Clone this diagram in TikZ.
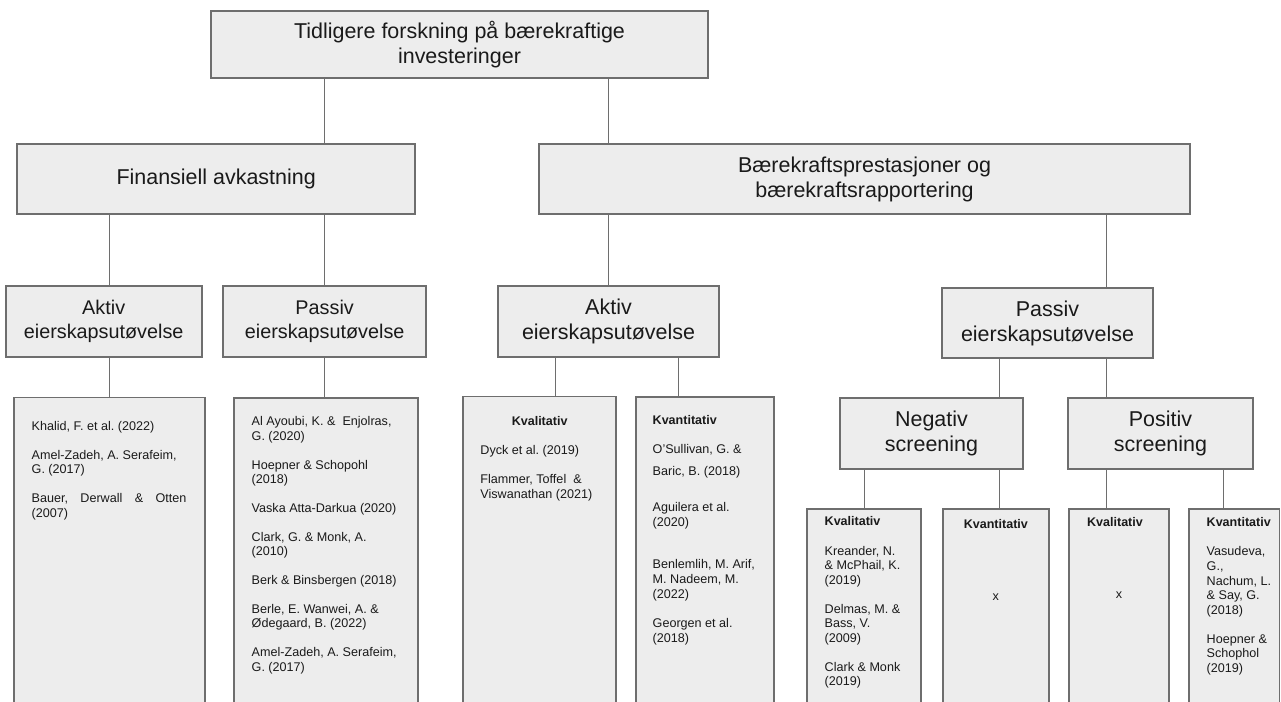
\documentclass[tikz,border=0pt]{standalone}
\usepackage{fontspec}
\usepackage{tikz}
\setmainfont{Liberation Sans}
\frenchspacing
\definecolor{boxfill}{HTML}{EDEDED}
\definecolor{boxline}{HTML}{6E6E6E}
\definecolor{ink}{HTML}{1A1A1A}

\begin{document}
\begin{tikzpicture}[x=0.75pt, y=-0.75pt,
        tbox/.style={draw=boxline, fill=boxfill, line width=1.3pt, inner sep=0pt, align=center, text=ink},
        wh/.style 2 args={minimum width=#1*0.75pt, minimum height=#2*0.75pt},
        bighead/.style={font=\fontsize{16.1pt}{18.75pt}\selectfont},
        midhead/.style={font=\fontsize{14.85pt}{17.8pt}\selectfont},
        lithead/.style={inner sep=0pt, text=ink, font=\fontsize{9.4pt}{11pt}\selectfont\bfseries},
        littext/.style={anchor=north west, inner sep=0pt, align=left, text=ink, font=\fontsize{9.45pt}{11pt}\selectfont},
        link/.style={draw=boxline, line width=1.1pt}]
        \useasboundingbox (0,0) rectangle (1281,702);
        \clip (0,0) rectangle (1281,702);

        % top and second level
        \node[tbox, bighead, wh={497.6}{66.7}] (top) at (459.5,44.35) {Tidligere forskning på bærekraftige\\investeringer};
        \node[tbox, bighead, wh={397.7}{70.3}] (fin) at (216.15,179.15) {Finansiell avkastning};
        \node[tbox, bighead, wh={651}{70.3}] (baer) at (864.5,179.15) {Bærekraftsprestasjoner og\\bærekraftsrapportering};

        % third level
        \node[tbox, midhead, wh={196}{71}] (aktA) at (103.7,321.2) {Aktiv\\eierskapsutøvelse};
        \node[tbox, midhead, wh={202.7}{71}] (passA) at (324.65,321.5) {Passiv\\eierskapsutøvelse};
        \node[tbox, bighead, wh={220.4}{70.7}] (aktB) at (608.5,321.35) {Aktiv\\eierskapsutøvelse};
        \node[tbox, bighead, wh={210.4}{70}] (passB) at (1047.5,323.3) {Passiv\\eierskapsutøvelse};
        \node[tbox, bighead, wh={183.6}{70.4}] (negS) at (931.5,433.5) {Negativ\\screening};
        \node[tbox, bighead, wh={184.4}{70.4}] (posS) at (1160.5,433.5) {Positiv\\screening};

        % literature boxes
        \node[tbox, wh={190.7}{320}, anchor=north] (litA) at (109.65,396.7) {};
        \node[tbox, wh={183.4}{320}, anchor=north] (litP) at (326,397) {};
        \node[tbox, wh={153.3}{320}, anchor=north] (kvalB) at (539.65,395.7) {};
        \node[tbox, wh={138.3}{320}, anchor=north] (kvantB) at (704.85,396) {};
        \node[tbox, wh={114}{210}, anchor=north] (negK) at (864.3,508.3) {};
        \node[tbox, wh={106.3}{210}, anchor=north] (negQ) at (995.85,508.3) {};
        \node[tbox, wh={100.6}{210}, anchor=north] (posK) at (1119,508.3) {};
        \node[tbox, wh={90.2}{210}, anchor=north] (posQ) at (1234.4,508.3) {};

        \node[littext] (litAtxt) at ([shift={(18,24.3)}]litA.north west) {Khalid, F. et al. (2022)\\[10.5pt]
            Amel-Zadeh, A. Serafeim,\\G. (2017)\\[10.5pt]
            \makebox[116pt][s]{Bauer, Derwall \& Otten}\\(2007)};
        \node[littext] (litPtxt) at ([shift={(18,19.3)}]litP.north west) {Al Ayoubi, K. \&\ \ Enjolras,\\G. (2020)\\[10.5pt]
            Hoepner \& Schopohl\\(2018)\\[10.5pt]
            Vaska Atta-Darkua (2020)\\[10.5pt]
            Clark, G. \& Monk, A.\\(2010)\\[10.5pt]
            Berk \& Binsbergen (2018)\\[10.5pt]
            Berle, E. Wanwei, A. \&\\Ødegaard, B. (2022)\\[10.5pt]
            Amel-Zadeh, A. Serafeim,\\G. (2017)};

        \node[lithead] (kvalBh) at ([shift={(0,25)}]kvalB.north) {Kvalitativ};
        \node[littext] (kvalBtxt) at ([shift={(18,49.6)}]kvalB.north west) {Dyck et al. (2019)\\[10.5pt]
            Flammer, Toffel\ \ \&\\Viswanathan (2021)};
        \node[lithead, anchor=west] (kvantBh) at ([shift={(17.6,24)}]kvantB.north west) {Kvantitativ};
        \node[littext] (kvantBtxt) at ([shift={(17.6,48.3)}]kvantB.north west) {O’Sullivan, G. \&\\[5.25pt]
            Baric, B. (2018)\\[16pt]
            Aguilera et al.\\(2020)\\[21pt]
            Benlemlih, M. Arif,\\M. Nadeem, M.\\(2022)\\[11pt]
            Georgen et al.\\(2018)};

        \node[lithead, anchor=west] (negKh) at ([shift={(18,13)}]negK.north west) {Kvalitativ};
        \node[littext] (negKtxt) at ([shift={(18,37.3)}]negK.north west) {Kreander, N.\\\& McPhail, K.\\(2019)\\[10.5pt]
            Delmas, M. \&\\Bass, V.\\(2009)\\[10.5pt]
            Clark \& Monk\\(2019)};
        \node[lithead] (negQh) at ([shift={(0,15.7)}]negQ.north) {Kvantitativ};
        \node[littext, anchor=center] (negQx) at ([shift={(0,88.7)}]negQ.north) {x};
        \node[lithead] (posKh) at ([shift={(-4,13.3)}]posK.north) {Kvalitativ};
        \node[littext, anchor=center] (posKx) at ([shift={(0,87)}]posK.north) {x};
        \node[lithead, anchor=west] (posQh) at ([shift={(18,13.3)}]posQ.north west) {Kvantitativ};
        \node[littext] (posQtxt) at ([shift={(18,38)}]posQ.north west) {Vasudeva,\\G.,\\Nachum, L.\\\& Say, G.\\(2018)\\[10.5pt]
            Hoepner \&\\Schophol\\(2019)};

        % connectors
        \draw[link] (top.south -| passA.north) -- (fin.north -| passA.north);
        \draw[link] (top.south -| aktB.north) -- (baer.north -| aktB.north);
        \draw[link] (fin.south -| litA.north) -- (aktA.north -| litA.north);
        \draw[link] (fin.south -| passA.north) -- (passA.north);
        \draw[link] (aktA.south -| litA.north) -- (litA.north);
        \draw[link] (passA.south) -- (litP.north -| passA.south);
        \draw[link] (baer.south -| aktB.north) -- (aktB.north);
        \draw[link] ([xshift=-39.6pt]aktB.south) -- ([xshift=-39.6pt]aktB.south |- kvalB.north);
        \draw[link] ([xshift=52.65pt]aktB.south) -- ([xshift=52.65pt]aktB.south |- kvantB.north);
        \draw[link] ([xshift=-40.35pt]posS.north |- baer.south) -- ([xshift=-40.35pt]posS.north |- passB.north);
        \draw[link] ([xshift=50.85pt]negS.north |- passB.south) -- ([xshift=50.85pt]negS.north);
        \draw[link] ([xshift=-40.35pt]posS.north |- passB.south) -- ([xshift=-40.35pt]posS.north);
        \draw[link] (negS.south -| negK.north) -- (negK.north);
        \draw[link] ([xshift=50.85pt]negS.south) -- ([xshift=50.85pt]negS.south |- negQ.north);
        \draw[link] ([xshift=-40.35pt]posS.south) -- ([xshift=-40.35pt]posS.south |- posK.north);
        \draw[link] ([xshift=47.1pt]posS.south) -- ([xshift=47.1pt]posS.south |- posQ.north);
\end{tikzpicture}
\end{document}
